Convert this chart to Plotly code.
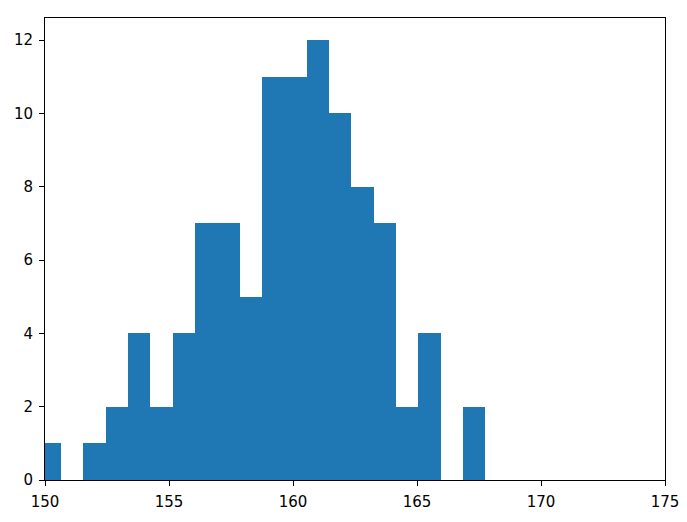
import numpy as np
import plotly.graph_objects as go

bin_start = 149.75
bin_width = 0.9
counts = [1, 0, 1, 2, 4, 2, 4, 7, 7, 5, 11, 11, 12, 10, 8, 7, 2, 4, 0, 2]
x_ticks = [150, 155, 160, 165, 170, 175]
y_ticks = [0, 2, 4, 6, 8, 10, 12]

edges = bin_start + bin_width * np.arange(len(counts) + 1)
centers = (edges[:-1] + edges[1:]) / 2

fig = go.Figure(go.Bar(
    x=centers, y=counts, width=[bin_width] * len(counts),
    marker=dict(color="#1f77b4", line=dict(width=0)),
))

axis_common = dict(
    showline=True, linecolor="black", linewidth=1, mirror=True,
    ticks="outside", ticklen=5, tickcolor="black", tickwidth=1,
    showgrid=False, zeroline=False, ticklabelstandoff=3, automargin=False,
    tickfont=dict(family="DejaVu Sans", size=15, color="black"),
)
# page body has an 8px offset; compensate so the plot area sits at 45..665 x 18..480
fig.update_layout(
    width=679, height=514,
    margin=dict(l=37, r=22, t=10, b=42),
    plot_bgcolor="white", paper_bgcolor="white",
    bargap=0, showlegend=False,
    xaxis=dict(range=[150, 175], tickvals=x_ticks, **axis_common),
    yaxis=dict(range=[0, 12.6], tickvals=y_ticks, **axis_common),
)
fig.write_html("out.html")
